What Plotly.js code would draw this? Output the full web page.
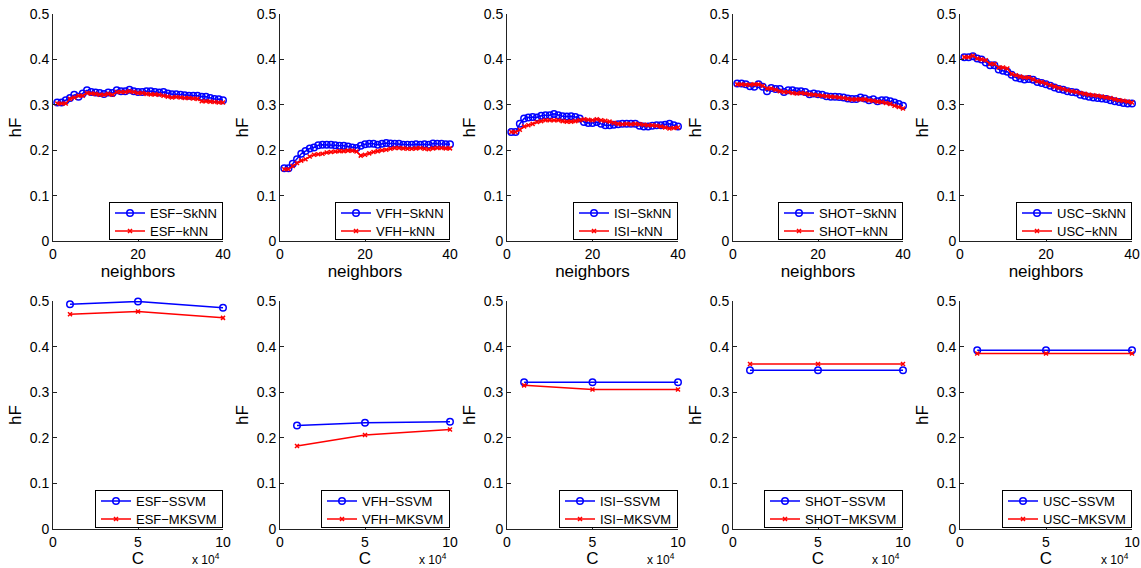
<!DOCTYPE html>
<html><head><meta charset="utf-8">
<script src="https://cdn.plot.ly/plotly-3.0.1.min.js"></script>
<style>html,body{margin:0;padding:0;background:#fff;}#chart{width:1141px;height:568px;}</style>
</head><body><div id="chart"></div>
<script>
// ---- data ----
const neighbors = Array.from({length:40},(_,i)=>i+1);
const C = [10000, 50000, 100000];
const features = ["ESF","VFH","ISI","SHOT","USC"];

const esfSkNN = [0.305,0.305,0.310,0.315,0.322,0.318,0.325,0.332,0.328,0.327,0.326,0.324,0.327,0.326,0.332,0.330,0.330,0.333,0.330,0.328,0.328,0.330,0.330,0.328,0.327,0.328,0.325,0.323,0.323,0.322,0.321,0.320,0.320,0.320,0.318,0.318,0.315,0.313,0.312,0.310];
const esfkNN  = [0.303,0.303,0.303,0.313,0.316,0.320,0.320,0.326,0.325,0.324,0.322,0.322,0.324,0.322,0.328,0.328,0.328,0.330,0.328,0.326,0.326,0.324,0.323,0.323,0.322,0.320,0.318,0.316,0.317,0.316,0.315,0.315,0.314,0.313,0.308,0.308,0.307,0.306,0.305,0.305];
const vfhSkNN = [0.160,0.160,0.170,0.180,0.192,0.198,0.204,0.206,0.211,0.212,0.212,0.212,0.211,0.210,0.210,0.208,0.206,0.205,0.210,0.213,0.214,0.214,0.212,0.214,0.216,0.215,0.214,0.214,0.212,0.212,0.212,0.213,0.212,0.213,0.212,0.215,0.214,0.214,0.213,0.213];
const vfhkNN  = [0.158,0.158,0.165,0.172,0.177,0.180,0.186,0.190,0.191,0.192,0.195,0.196,0.197,0.198,0.198,0.199,0.199,0.197,0.188,0.190,0.193,0.196,0.198,0.200,0.201,0.203,0.205,0.205,0.204,0.203,0.203,0.204,0.205,0.203,0.202,0.204,0.205,0.205,0.204,0.204];
const isiSkNN = [0.240,0.240,0.258,0.270,0.272,0.273,0.272,0.276,0.277,0.277,0.280,0.277,0.275,0.274,0.275,0.273,0.270,0.262,0.260,0.260,0.262,0.258,0.255,0.255,0.256,0.257,0.258,0.258,0.258,0.258,0.254,0.252,0.252,0.254,0.255,0.255,0.256,0.258,0.255,0.252];
const isikNN  = [0.240,0.240,0.245,0.252,0.255,0.258,0.262,0.264,0.266,0.266,0.266,0.266,0.264,0.263,0.263,0.264,0.266,0.268,0.267,0.266,0.268,0.266,0.265,0.263,0.260,0.258,0.257,0.258,0.257,0.258,0.257,0.256,0.255,0.255,0.254,0.252,0.250,0.248,0.249,0.250];
const shotSkNN= [0.347,0.347,0.345,0.341,0.340,0.345,0.340,0.330,0.337,0.335,0.335,0.328,0.332,0.332,0.330,0.330,0.328,0.323,0.325,0.323,0.322,0.319,0.318,0.318,0.317,0.316,0.314,0.313,0.313,0.316,0.314,0.310,0.312,0.308,0.310,0.310,0.308,0.305,0.302,0.298];
const shotkNN = [0.345,0.345,0.344,0.344,0.345,0.345,0.342,0.336,0.336,0.333,0.330,0.328,0.328,0.326,0.325,0.326,0.325,0.323,0.322,0.321,0.320,0.319,0.318,0.317,0.316,0.315,0.313,0.312,0.312,0.312,0.312,0.310,0.309,0.307,0.306,0.304,0.302,0.298,0.295,0.292];
const uscSkNN = [0.405,0.405,0.407,0.402,0.400,0.393,0.387,0.387,0.378,0.375,0.373,0.366,0.360,0.358,0.356,0.357,0.355,0.350,0.348,0.345,0.342,0.338,0.335,0.333,0.330,0.328,0.327,0.322,0.320,0.318,0.316,0.315,0.314,0.313,0.310,0.308,0.306,0.304,0.303,0.303];
const usckNN  = [0.405,0.405,0.408,0.402,0.400,0.398,0.390,0.390,0.382,0.382,0.380,0.368,0.365,0.362,0.360,0.360,0.356,0.352,0.350,0.347,0.343,0.340,0.337,0.335,0.332,0.330,0.328,0.326,0.324,0.322,0.321,0.320,0.318,0.316,0.315,0.312,0.310,0.309,0.307,0.305];

const esfSSVM  = [0.493,0.499,0.485];
const esfMKSVM = [0.471,0.477,0.463];
const vfhSSVM  = [0.227,0.233,0.235];
const vfhMKSVM = [0.182,0.206,0.218];
const isiSSVM  = [0.322,0.322,0.322];
const isiMKSVM = [0.315,0.306,0.306];
const shotSSVM = [0.348,0.348,0.348];
const shotMKSVM= [0.362,0.362,0.362];
const uscSSVM  = [0.392,0.392,0.392];
const uscMKSVM = [0.385,0.385,0.385];

const skNN = [esfSkNN,vfhSkNN,isiSkNN,shotSkNN,uscSkNN];
const kNN  = [esfkNN,vfhkNN,isikNN,shotkNN,usckNN];
const ssvm = [esfSSVM,vfhSSVM,isiSSVM,shotSSVM,uscSSVM];
const mksvm= [esfMKSVM,vfhMKSVM,isiMKSVM,shotMKSVM,uscMKSVM];

// ---- layout ----
const W = 1141, H = 568;
const colPx = [[53,223],[280,450],[507,678],[733,903],[960,1132]];
const rowPx = [[14,241],[301,529]];
const FONT = "Liberation Sans, Arial, Helvetica, sans-serif";

const traces = [];
const layout = {
  width: W, height: H, margin:{l:0,r:0,t:0,b:0},
  paper_bgcolor:"#fff", plot_bgcolor:"#fff",
  font:{family:FONT, size:13, color:"#000"},
  showlegend:true, annotations:[]
};

function axisCommon(){
  return {showline:true, linecolor:"#222", linewidth:1, mirror:false,
    showgrid:false, zeroline:false, ticks:"inside", ticklen:4, tickcolor:"#222",
    tickfont:{family:FONT,size:14,color:"#000"}, fixedrange:true};
}

let idx = 0;
for (let r=0;r<2;r++){
  for (let c=0;c<5;c++){
    idx++;
    const xa = "xaxis"+(idx===1?"":idx), ya = "yaxis"+(idx===1?"":idx);
    const xr = "x"+(idx===1?"":idx), yr = "y"+(idx===1?"":idx);
    const lg = "legend"+(idx===1?"":idx);
    const xd = [colPx[c][0]/W, colPx[c][1]/W];
    const yd = [1-rowPx[r][1]/H, 1-rowPx[r][0]/H];
    const xAx = Object.assign(axisCommon(), {domain:xd, anchor:yr});
    const yAx = Object.assign(axisCommon(), {domain:yd, anchor:xr, range:[0,0.5],
      tickvals:[0,0.1,0.2,0.3,0.4,0.5], ticktext:["0","0.1","0.2","0.3","0.4","0.5"],
      title:{text:"hF", font:{family:FONT,size:17,color:"#000"}, standoff:3}});
    let xs, ya1, ya2, n1, n2;
    if (r===0){
      xAx.range=[0,40]; xAx.tickvals=[0,20,40];
      xAx.title={text:"neighbors", font:{family:FONT,size:17,color:"#000"}, standoff:1};
      xs = neighbors; ya1 = skNN[c]; ya2 = kNN[c];
      n1 = features[c]+"\u2212SkNN"; n2 = features[c]+"\u2212kNN";
    } else {
      xAx.range=[0,100000]; xAx.tickvals=[0,50000,100000]; xAx.ticktext=["0","5","10"];
      xAx.title={text:"C", font:{family:FONT,size:17,color:"#000"}, standoff:1};
      xs = C; ya1 = ssvm[c]; ya2 = mksvm[c];
      n1 = features[c]+"\u2212SSVM"; n2 = features[c]+"\u2212MKSVM";
      layout.annotations.push({xref:"paper", yref:"paper", x:(colPx[c][1]-1)/W, y:1-559/H,
        xanchor:"right", yanchor:"middle", showarrow:false,
        text:"x 10<sup>4</sup>", font:{family:FONT,size:12,color:"#000"}});
    }
    layout[xa]=xAx; layout[ya]=yAx;
    traces.push({type:"scatter", mode:"lines+markers", x:xs, y:ya1, name:n1,
      xaxis:xr, yaxis:yr, legend:lg, cliponaxis:false,
      line:{color:"#0000ff", width:1.5},
      marker:{symbol:"circle-open", size:6.5, color:"#0000ff", line:{width:1.5}}});
    traces.push({type:"scatter", mode:"lines+markers", x:xs, y:ya2, name:n2,
      xaxis:xr, yaxis:yr, legend:lg, cliponaxis:false,
      line:{color:"#ff0000", width:1.5},
      marker:{symbol:"x-thin-open", size:4, color:"#ff0000", line:{width:1.5, color:"#ff0000"}}});
    layout[lg] = {x:colPx[c][1]/W, y:1-(rowPx[r][1]-2)/H, xanchor:"right", yanchor:"bottom",
      bgcolor:"#fff", bordercolor:"#000", borderwidth:1,
      font:{family:FONT,size:13,color:"#000"}, itemwidth:30, tracegroupgap:0,
      traceorder:"normal"};
  }
}

function parseT(s){
  const m = /translate\(\s*([-\d.e]+)[ ,]+([-\d.e]+)\s*\)/.exec(s||"");
  return m ? [parseFloat(m[1]), parseFloat(m[2])] : [0,0];
}

// tighten each legend box to MATLAB-like compact spacing, keeping its bottom-right corner
Plotly.newPlot("chart", traces, layout, {staticPlot:true, displayModeBar:false}).then(gd => {
  const ROW = 18, NEWH = 37;
  const legends = Array.from(gd.querySelectorAll("g.infolayer > g"))
    .filter(g => /^legend\d*$/.test((g.getAttribute("class")||"").trim()));
  legends.forEach(lg => {
    const bg = lg.querySelector("rect.bg");
    if (!bg) return;
    const [tx, ty] = parseT(lg.getAttribute("transform"));
    const row = ty < 284 ? 0 : 1;
    const bottom = rowPx[row][1] - 2;
    const items = lg.querySelectorAll("g.traces");
    items.forEach((it, i) => {
      const [ix] = parseT(it.getAttribute("transform"));
      it.setAttribute("transform", `translate(${ix},${1 + ROW/2 + 1 + i*ROW})`);
    });
    bg.setAttribute("height", NEWH);
    lg.setAttribute("transform", `translate(${tx},${bottom - NEWH})`);
  });
});
</script></body></html>
